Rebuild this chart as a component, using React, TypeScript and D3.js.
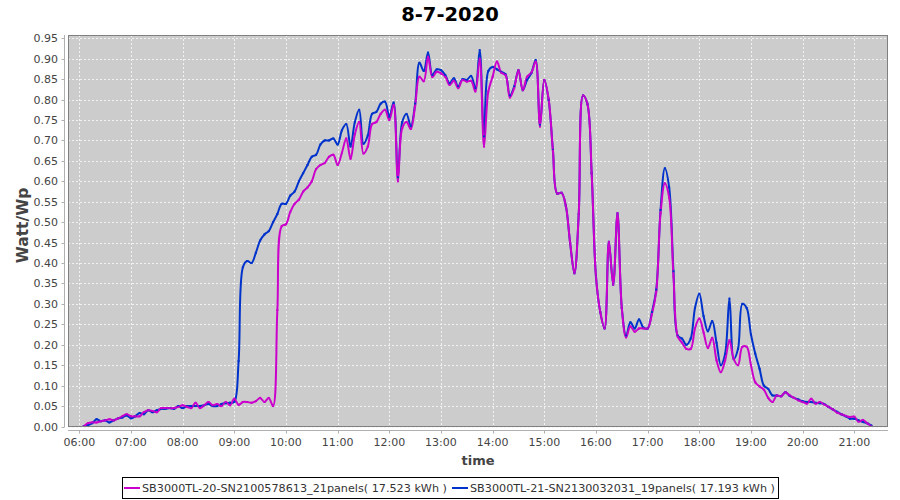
import React from "react";
import * as d3 from "d3";

const title = "8-7-2020";
const yLabel = "Watt/Wp";
const xLabel = "time";
const seriesNames = [
  "SB3000TL-20-SN2100578613_21panels( 17.523 kWh )",
  "SB3000TL-21-SN2130032031_19panels( 17.193 kWh )",
];
const seriesColors = ["#cc00cc", "#0033cc"];

const xTickLabels = ["06:00","07:00","08:00","09:00","10:00","11:00","12:00","13:00","14:00","15:00","16:00","17:00","18:00","19:00","20:00","21:00"];
const yTickValues = [0,0.05,0.1,0.15,0.2,0.25,0.3,0.35,0.4,0.45,0.5,0.55,0.6,0.65,0.7,0.75,0.8,0.85,0.9,0.95];

const times = [
  "06:05","06:10","06:15","06:20","06:25","06:30","06:35","06:40","06:45","06:50","06:55",
  "07:00","07:05","07:10","07:15","07:20","07:25","07:30","07:35","07:40","07:45","07:50","07:55",
  "08:00","08:05","08:10","08:15","08:20","08:25","08:30","08:35","08:40","08:45","08:50","08:55",
  "09:00","09:05","09:10","09:15","09:20","09:25","09:30","09:35","09:40","09:45","09:50","09:55",
  "10:00","10:05","10:10","10:15","10:20","10:25","10:30","10:35","10:40","10:45","10:50","10:55",
  "11:00","11:05","11:10","11:15","11:20","11:25","11:30","11:35","11:40","11:45","11:50","11:55",
  "12:00","12:05","12:10","12:15","12:20","12:25","12:30","12:35","12:40","12:45","12:50","12:55",
  "13:00","13:05","13:10","13:15","13:20","13:25","13:30","13:35","13:40","13:45","13:50","13:55",
  "14:00","14:05","14:10","14:15","14:20","14:25","14:30","14:35","14:40","14:45","14:50","14:55",
  "15:00","15:05","15:10","15:15","15:20","15:25","15:30","15:35","15:40","15:45","15:50","15:55",
  "16:00","16:05","16:10","16:15","16:20","16:25","16:30","16:35","16:40","16:45","16:50","16:55",
  "17:00","17:05","17:10","17:15","17:20","17:25","17:30","17:35","17:40","17:45","17:50","17:55",
  "18:00","18:05","18:10","18:15","18:20","18:25","18:30","18:35","18:40","18:45","18:50","18:55",
  "19:00","19:05","19:10","19:15","19:20","19:25","19:30","19:35","19:40","19:45","19:50","19:55",
  "20:00","20:05","20:10","20:15","20:20","20:25","20:30","20:35","20:40","20:45","20:50","20:55",
  "21:00","21:05","21:10","21:15","21:20",
];

const sb20 = [
  0.000,0.008,0.010,0.010,0.013,0.015,0.018,0.015,0.020,0.025,0.030,
  0.025,0.025,0.025,0.035,0.040,0.038,0.035,0.045,0.045,0.045,0.045,0.048,
  0.052,0.048,0.045,0.058,0.045,0.052,0.060,0.052,0.055,0.050,0.060,0.052,
  0.068,0.053,0.060,0.060,0.058,0.062,0.070,0.060,0.070,0.050,0.285,0.490,
  0.495,0.525,0.545,0.555,0.575,0.585,0.600,0.630,0.640,0.645,0.660,0.665,
  0.640,0.670,0.705,0.655,0.715,0.745,0.668,0.685,0.740,0.745,0.765,0.775,
  0.750,0.787,0.600,0.730,0.745,0.728,0.785,0.856,0.845,0.905,0.855,0.868,
  0.864,0.856,0.836,0.846,0.828,0.848,0.844,0.846,0.820,0.900,0.685,0.820,
  0.856,0.893,0.866,0.860,0.805,0.828,0.872,0.823,0.856,0.866,0.893,0.734,
  0.848,0.802,0.675,0.570,0.572,0.540,0.449,0.375,0.520,0.810,0.790,0.620,
  0.367,0.280,0.240,0.452,0.347,0.522,0.290,0.218,0.245,0.232,0.240,0.240,
  0.240,0.275,0.330,0.522,0.595,0.560,0.367,0.220,0.205,0.190,0.190,0.240,
  0.264,0.230,0.192,0.217,0.162,0.133,0.162,0.211,0.165,0.150,0.195,0.195,
  0.150,0.108,0.098,0.090,0.070,0.060,0.076,0.074,0.084,0.076,0.070,0.064,
  0.060,0.056,0.068,0.056,0.060,0.054,0.048,0.042,0.034,0.030,0.026,0.023,
  0.024,0.012,0.016,0.008,0.000,
];

const sb21 = [
  0.000,0.003,0.008,0.018,0.013,0.015,0.010,0.015,0.020,0.022,0.027,
  0.020,0.025,0.033,0.030,0.040,0.035,0.040,0.043,0.043,0.045,0.043,0.050,
  0.045,0.050,0.050,0.050,0.050,0.052,0.055,0.050,0.050,0.055,0.057,0.058,
  0.060,0.160,0.390,0.405,0.400,0.425,0.455,0.470,0.478,0.500,0.520,0.545,
  0.545,0.565,0.575,0.600,0.620,0.640,0.660,0.665,0.690,0.700,0.700,0.705,
  0.690,0.725,0.740,0.685,0.745,0.775,0.692,0.712,0.765,0.770,0.790,0.795,
  0.758,0.793,0.610,0.745,0.765,0.735,0.790,0.890,0.870,0.915,0.860,0.874,
  0.872,0.860,0.840,0.852,0.832,0.850,0.848,0.858,0.828,0.921,0.710,0.870,
  0.880,0.874,0.868,0.862,0.810,0.832,0.872,0.823,0.848,0.865,0.897,0.738,
  0.848,0.800,0.677,0.570,0.572,0.540,0.449,0.375,0.520,0.810,0.790,0.620,
  0.367,0.280,0.240,0.452,0.347,0.522,0.290,0.222,0.255,0.240,0.262,0.242,
  0.240,0.280,0.335,0.530,0.632,0.585,0.380,0.222,0.215,0.200,0.215,0.290,
  0.325,0.270,0.233,0.258,0.205,0.150,0.178,0.313,0.165,0.190,0.300,0.290,
  0.225,0.178,0.141,0.100,0.092,0.076,0.076,0.074,0.084,0.075,0.070,0.066,
  0.062,0.060,0.060,0.058,0.057,0.055,0.048,0.042,0.036,0.030,0.025,0.019,
  0.019,0.015,0.011,0.008,0.002,
];

const toMin = (s: string) => {
  const [h, m] = s.split(":").map(Number);
  return h * 60 + m;
};

export default function App() {
  const W = 900, H = 500;
  const plot = { x: 68, y: 35, w: 820, h: 392 };
  const x = d3.scaleLinear().domain([360, 1260]).range([79.3, 854.3]);
  const y = d3.scaleLinear().domain([0, 0.95]).range([426.5, 38.3]);
  const series = [sb20, sb21];
  const line = d3
    .line<number>()
    .x((_, i) => x(toMin(times[i])))
    .y((d) => y(d))
    .curve(d3.curveCatmullRom.alpha(0.5));

  const font = "'DejaVu Sans', sans-serif";
  const axisY = 64.5;
  const axisX = 430.5;

  return (
    <svg width={W} height={H} style={{ display: "block", position: "absolute", left: 0, top: 0 }} fontFamily={font}>
      <rect x={0} y={0} width={W} height={H} fill="#ffffff" />
      <text x={450} y={21} textAnchor="middle" fontWeight="bold" fontSize={19.5} fill="#000">{title}</text>
      <rect x={plot.x} y={plot.y} width={plot.w} height={plot.h} fill="#cccccc" />
      <clipPath id="pc"><rect x={plot.x} y={plot.y} width={plot.w} height={plot.h} /></clipPath>
      {yTickValues.map((v) => (
        <line key={"gy" + v} x1={plot.x} x2={plot.x + plot.w} y1={Math.round(y(v)) + 0.5} y2={Math.round(y(v)) + 0.5} stroke="#f2f2f2" strokeWidth={1} strokeDasharray="2,2" />
      ))}
      {xTickLabels.map((t) => (
        <line key={"gx" + t} y1={plot.y} y2={plot.y + plot.h} x1={Math.round(x(toMin(t))) + 0.5} x2={Math.round(x(toMin(t))) + 0.5} stroke="#f2f2f2" strokeWidth={1} strokeDasharray="2,2" />
      ))}
      <g clipPath="url(#pc)">
        {[1, 0].map((si) => (
          <path key={"l" + si} d={line(series[si]) || ""} fill="none" stroke={seriesColors[si]} strokeWidth={2} strokeLinejoin="round" />
        ))}
        {[1, 0].map((si) =>
          series[si].map((v, i) => (
            <rect key={"m" + si + "-" + i} x={x(toMin(times[i])) - 1} y={y(v) - 1} width={2} height={2} fill={seriesColors[si]} />
          ))
        )}
      </g>
      <rect x={plot.x + 0.5} y={plot.y + 0.5} width={plot.w - 1} height={plot.h - 1} fill="none" stroke="#808080" strokeWidth={1} />
      {/* y axis */}
      <line x1={axisY} x2={axisY} y1={plot.y} y2={plot.y + plot.h} stroke="#b0b0b0" />
      {yTickValues.map((v) => (
        <g key={"ty" + v}>
          <line x1={axisY - 3} x2={axisY} y1={Math.round(y(v)) + 0.5} y2={Math.round(y(v)) + 0.5} stroke="#b0b0b0" />
          <text x={58} y={y(v) + 4} textAnchor="end" fontSize={11} fill="#444">{v.toFixed(2)}</text>
        </g>
      ))}
      {/* x axis */}
      <line x1={plot.x} x2={plot.x + plot.w} y1={axisX} y2={axisX} stroke="#b0b0b0" />
      {xTickLabels.map((t) => (
        <g key={"tx" + t}>
          <line x1={Math.round(x(toMin(t))) + 0.5} x2={Math.round(x(toMin(t))) + 0.5} y1={axisX} y2={axisX + 3} stroke="#b0b0b0" />
          <text x={x(toMin(t))} y={445.5} textAnchor="middle" fontSize={11} fill="#444">{t}</text>
        </g>
      ))}
      <text x={478} y={465} textAnchor="middle" fontWeight="bold" fontSize={13} fill="#444">{xLabel}</text>
      <text transform="translate(27.5,225.5) rotate(-90)" textAnchor="middle" fontWeight="bold" fontSize={15.5} fill="#444">{yLabel}</text>
      {/* legend */}
      <rect x={122.5} y={477.5} width={656} height={21} fill="#fff" stroke="#000" strokeWidth={1} />
      {[0, 1].map((si) => {
        const lx = si === 0 ? 124 : 452;
        return (
          <g key={"lg" + si}>
            <line x1={lx} x2={lx + 16} y1={488} y2={488} stroke={seriesColors[si]} strokeWidth={2} />
            <rect x={lx + 7} y={487} width={2} height={2} fill={seriesColors[si]} />
            <text x={lx + 18} y={492} fontSize={11.2} fill="#333">{seriesNames[si]}</text>
          </g>
        );
      })}
    </svg>
  );
}
